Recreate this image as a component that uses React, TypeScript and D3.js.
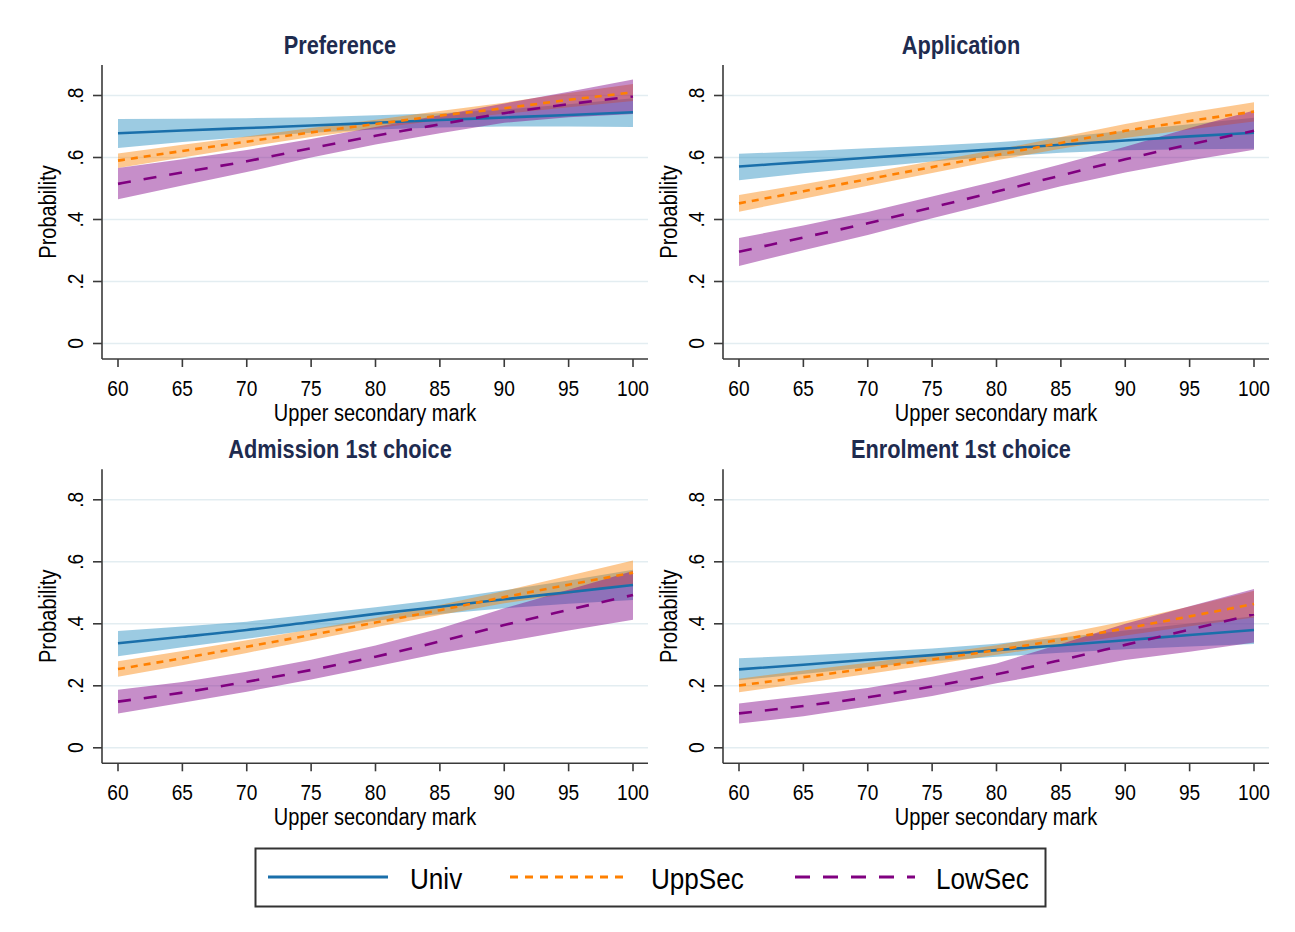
import React from "react";
import * as d3 from "d3";

// Upper secondary mark at which predictions were evaluated
const marks = [60, 65, 70, 75, 80, 85, 90, 95, 100];
const yTickValues = [0, 0.2, 0.4, 0.6, 0.8];
const yTickLabels = ["0", ".2", ".4", ".6", ".8"];

const seriesNames = ["Univ", "UppSec", "LowSec"];
const panelTitles = ["Preference", "Application", "Admission 1st choice", "Enrolment 1st choice"];

// Preference
const prefUnivEst = [0.678, 0.687, 0.695, 0.703, 0.712, 0.721, 0.729, 0.737, 0.746];
const prefUnivLo = [0.631, 0.65, 0.666, 0.68, 0.69, 0.697, 0.7, 0.7, 0.698];
const prefUnivHi = [0.724, 0.725, 0.727, 0.73, 0.736, 0.743, 0.755, 0.772, 0.791];
const prefUppEst = [0.59, 0.621, 0.651, 0.681, 0.708, 0.735, 0.759, 0.786, 0.81];
const prefUppLo = [0.566, 0.6, 0.634, 0.666, 0.694, 0.72, 0.741, 0.762, 0.782];
const prefUppHi = [0.613, 0.641, 0.668, 0.695, 0.722, 0.75, 0.777, 0.808, 0.837];
const prefLowEst = [0.515, 0.552, 0.588, 0.63, 0.67, 0.707, 0.743, 0.772, 0.797];
const prefLowLo = [0.465, 0.51, 0.553, 0.6, 0.642, 0.678, 0.712, 0.73, 0.74];
const prefLowHi = [0.566, 0.594, 0.624, 0.66, 0.698, 0.736, 0.774, 0.812, 0.852];

// Application
const applUnivEst = [0.571, 0.585, 0.599, 0.613, 0.627, 0.641, 0.655, 0.668, 0.68];
const applUnivLo = [0.527, 0.549, 0.568, 0.587, 0.603, 0.615, 0.623, 0.627, 0.628];
const applUnivHi = [0.612, 0.62, 0.63, 0.639, 0.649, 0.665, 0.686, 0.707, 0.728];
const applUppEst = [0.452, 0.491, 0.53, 0.569, 0.608, 0.647, 0.686, 0.718, 0.748];
const applUppLo = [0.425, 0.467, 0.509, 0.55, 0.591, 0.628, 0.663, 0.69, 0.716];
const applUppHi = [0.479, 0.514, 0.551, 0.588, 0.625, 0.666, 0.708, 0.745, 0.778];
const applLowEst = [0.296, 0.342, 0.388, 0.439, 0.49, 0.542, 0.594, 0.642, 0.686];
const applLowLo = [0.25, 0.301, 0.35, 0.404, 0.456, 0.507, 0.552, 0.59, 0.625];
const applLowHi = [0.34, 0.381, 0.424, 0.474, 0.524, 0.578, 0.635, 0.695, 0.752];

// Admission 1st choice
const admUnivEst = [0.337, 0.358, 0.38, 0.406, 0.432, 0.455, 0.479, 0.502, 0.525];
const admUnivLo = [0.295, 0.324, 0.352, 0.38, 0.41, 0.432, 0.45, 0.465, 0.477];
const admUnivHi = [0.377, 0.391, 0.407, 0.43, 0.453, 0.478, 0.508, 0.54, 0.574];
const admUppEst = [0.254, 0.289, 0.326, 0.364, 0.404, 0.444, 0.486, 0.526, 0.565];
const admUppLo = [0.229, 0.266, 0.306, 0.347, 0.389, 0.428, 0.466, 0.497, 0.528];
const admUppHi = [0.279, 0.312, 0.347, 0.382, 0.419, 0.461, 0.506, 0.555, 0.604];
const admLowEst = [0.149, 0.178, 0.213, 0.251, 0.294, 0.343, 0.396, 0.445, 0.493];
const admLowLo = [0.111, 0.145, 0.181, 0.22, 0.262, 0.305, 0.342, 0.378, 0.413];
const admLowHi = [0.187, 0.212, 0.245, 0.284, 0.33, 0.385, 0.45, 0.51, 0.57];

// Enrolment 1st choice
const enrUnivEst = [0.253, 0.268, 0.284, 0.299, 0.315, 0.331, 0.347, 0.364, 0.38];
const enrUnivLo = [0.218, 0.238, 0.26, 0.279, 0.294, 0.307, 0.318, 0.327, 0.335];
const enrUnivHi = [0.289, 0.298, 0.308, 0.32, 0.336, 0.356, 0.378, 0.401, 0.424];
const enrUppEst = [0.201, 0.228, 0.256, 0.285, 0.315, 0.349, 0.385, 0.424, 0.464];
const enrUppLo = [0.179, 0.208, 0.238, 0.269, 0.3, 0.331, 0.362, 0.392, 0.42];
const enrUppHi = [0.223, 0.249, 0.274, 0.302, 0.331, 0.367, 0.408, 0.456, 0.507];
const enrLowEst = [0.111, 0.135, 0.163, 0.198, 0.237, 0.283, 0.332, 0.381, 0.431];
const enrLowLo = [0.078, 0.102, 0.133, 0.167, 0.208, 0.246, 0.283, 0.31, 0.34];
const enrLowHi = [0.143, 0.167, 0.193, 0.229, 0.272, 0.335, 0.4, 0.457, 0.512];

type Series = { est: number[]; lo: number[]; hi: number[] };

const panels: Series[][] = [
  [
    { est: prefUnivEst, lo: prefUnivLo, hi: prefUnivHi },
    { est: prefUppEst, lo: prefUppLo, hi: prefUppHi },
    { est: prefLowEst, lo: prefLowLo, hi: prefLowHi },
  ],
  [
    { est: applUnivEst, lo: applUnivLo, hi: applUnivHi },
    { est: applUppEst, lo: applUppLo, hi: applUppHi },
    { est: applLowEst, lo: applLowLo, hi: applLowHi },
  ],
  [
    { est: admUnivEst, lo: admUnivLo, hi: admUnivHi },
    { est: admUppEst, lo: admUppLo, hi: admUppHi },
    { est: admLowEst, lo: admLowLo, hi: admLowHi },
  ],
  [
    { est: enrUnivEst, lo: enrUnivLo, hi: enrUnivHi },
    { est: enrUppEst, lo: enrUppLo, hi: enrUppHi },
    { est: enrLowEst, lo: enrLowLo, hi: enrLowHi },
  ],
];

const lineColors = ["#1a6faa", "#ff8000", "#800080"];
const bandColors = ["#238bbf", "#fb8508", "#800487"];
const lineDashes = ["none", "7,6", "13,13"];
const legendDashes = ["none", "8,7", "15,13"];

const FONT = "'Liberation Sans', Arial, sans-serif";
const SX = 0.87; // condensing along the writing direction

function Label(props: {
  x: number;
  y: number;
  rot?: number;
  anchor?: string;
  size: number;
  weight?: string | number;
  fill?: string;
  children: React.ReactNode;
}) {
  const { x, y, rot, anchor = "middle", size, weight = "normal", fill = "#000", children } = props;
  return (
    <text
      transform={`translate(${x},${y})${rot ? ` rotate(${rot})` : ""} scale(${SX},1)`}
      textAnchor={anchor}
      fontFamily={FONT}
      fontSize={size}
      fontWeight={weight}
      fill={fill}
    >
      {children}
    </text>
  );
}

function Panel({ title, data, dx, dy }: { title: string; data: Series[]; dx: number; dy: number }) {
  const x = d3.scaleLinear().domain([60, 100]).range([118 + dx, 633 + dx]);
  const y = d3.scaleLinear().domain([0, 0.8]).range([343.5 + dy, 95.5 + dy]);

  const axisLeft = 102 + dx;
  const axisRight = 648 + dx;
  const axisBottom = 359 + dy;
  const axisTop = 65 + dy;

  const axisColor = "#3a3a3a";

  return (
    <g>
      <Label x={340 + dx} y={54 + dy} size={25} weight="bold" fill="#1e2b4f">
        {title}
      </Label>

      {/* horizontal grid */}
      {yTickValues.map((v) => (
        <line
          key={`g${v}`}
          x1={axisLeft + 1}
          x2={axisRight}
          y1={y(v)}
          y2={y(v)}
          stroke="#e3edf1"
          strokeWidth={1.6}
        />
      ))}

      {/* confidence bands */}
      {data.map((s, k) => {
        const path = d3
          .area<number>()
          .x((_, i) => x(marks[i]))
          .y0((_, i) => y(s.lo[i]))
          .y1((_, i) => y(s.hi[i]))
          .curve(d3.curveLinear)(marks);
        return <path key={`b${k}`} d={path || ""} fill={bandColors[k]} fillOpacity={0.45} stroke="none" />;
      })}

      {/* predicted probabilities */}
      {data.map((s, k) => {
        const path = d3
          .line<number>()
          .x((_, i) => x(marks[i]))
          .y((_, i) => y(s.est[i]))
          .curve(d3.curveMonotoneX)(marks);
        return (
          <path
            key={`l${k}`}
            d={path || ""}
            fill="none"
            stroke={lineColors[k]}
            strokeWidth={2.6}
            strokeDasharray={lineDashes[k]}
          />
        );
      })}

      {/* axes */}
      <line x1={axisLeft} x2={axisLeft} y1={axisTop} y2={axisBottom} stroke={axisColor} strokeWidth={1.6} />
      <line x1={axisLeft} x2={axisRight} y1={axisBottom} y2={axisBottom} stroke={axisColor} strokeWidth={1.6} />

      {yTickValues.map((v, i) => (
        <g key={`yt${v}`}>
          <line x1={axisLeft - 9} x2={axisLeft} y1={y(v)} y2={y(v)} stroke={axisColor} strokeWidth={1.6} />
          <Label x={83 + dx} y={y(v)} rot={-90} size={22}>
            {yTickLabels[i]}
          </Label>
        </g>
      ))}

      {marks.map((m) => (
        <g key={`xt${m}`}>
          <line x1={x(m)} x2={x(m)} y1={axisBottom} y2={axisBottom + 8} stroke={axisColor} strokeWidth={1.6} />
          <Label x={x(m)} y={395.5 + dy} size={22}>
            {String(m)}
          </Label>
        </g>
      ))}

      <Label x={56 + dx} y={(axisTop + axisBottom) / 2} rot={-90} size={23}>
        Probability
      </Label>
      <Label x={(axisLeft + axisRight) / 2} y={421 + dy} size={23}>
        Upper secondary mark
      </Label>
    </g>
  );
}

export default function App() {
  const offsets = [
    [0, 0],
    [621, 0],
    [0, 404.3],
    [621, 404.3],
  ];
  const legendLineX = [268, 510, 795];
  const legendTextX = [410, 651, 936];

  return (
    <svg
      width={1295}
      height={932}
      style={{ position: "absolute", left: 0, top: 0, background: "#fff" }}
    >
      <rect x={0} y={0} width={1295} height={932} fill="#fff" />
      {panels.map((data, p) => (
        <Panel key={p} title={panelTitles[p]} data={data} dx={offsets[p][0]} dy={offsets[p][1]} />
      ))}

      {/* legend */}
      <rect x={255.5} y={848.5} width={790} height={58} fill="#fff" stroke="#333" strokeWidth={2} />
      {seriesNames.map((name, k) => (
        <g key={name}>
          <line
            x1={legendLineX[k]}
            x2={legendLineX[k] + 120}
            y1={877}
            y2={877}
            stroke={lineColors[k]}
            strokeWidth={2.8}
            strokeDasharray={legendDashes[k]}
          />
          <Label x={legendTextX[k]} y={889} anchor="start" size={30}>
            {name}
          </Label>
        </g>
      ))}
    </svg>
  );
}
